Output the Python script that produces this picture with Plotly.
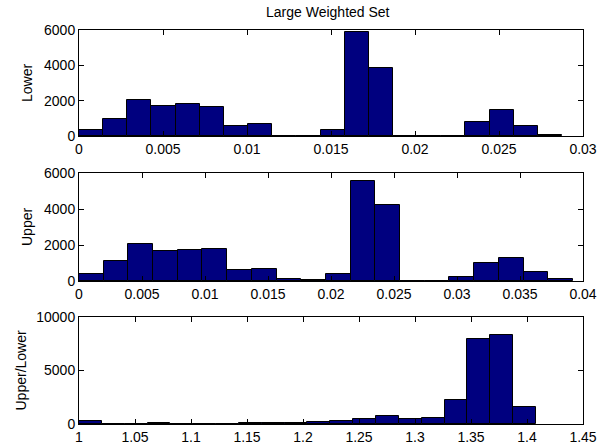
import numpy as np
import plotly.graph_objects as go

title_text = "Large Weighted Set"

# Histogram counts (20 bins each)
lower_counts = [340, 945, 2040, 1700, 1830, 1645, 567, 660, 15, 15,
                360, 5900, 3840, 15, 15, 15, 794, 1475, 586, 76]
lower_bin_min, lower_bin_max = 0.0, 0.02875

upper_counts = [371, 1130, 2040, 1650, 1707, 1780, 612, 686, 93, 30,
                371, 5530, 4230, 15, 15, 222, 1000, 1260, 482, 111]
upper_bin_min, upper_bin_max = 0.0, 0.0392

ratio_counts = [280, 0, 0, 60, 0, 0, 40, 50, 60, 90,
                186, 250, 466, 745, 466, 590, 2236, 7920, 8354, 1553]
ratio_bin_min, ratio_bin_max = 1.0, 1.408

# Axis ticks
lower_xticks = [0, 0.005, 0.01, 0.015, 0.02, 0.025, 0.03]
lower_xlabels = ["0", "0.005", "0.01", "0.015", "0.02", "0.025", "0.03"]
upper_xticks = [0, 0.005, 0.01, 0.015, 0.02, 0.025, 0.03, 0.035, 0.04]
upper_xlabels = ["0", "0.005", "0.01", "0.015", "0.02", "0.025", "0.03", "0.035", "0.04"]
ratio_xticks = [1, 1.05, 1.1, 1.15, 1.2, 1.25, 1.3, 1.35, 1.4, 1.45]
ratio_xlabels = ["1", "1.05", "1.1", "1.15", "1.2", "1.25", "1.3", "1.35", "1.4", "1.45"]
count_yticks_6k = [0, 2000, 4000, 6000]
count_ylabels_6k = ["0", "2000", "4000", "6000"]
count_yticks_10k = [0, 5000, 10000]
count_ylabels_10k = ["0", "5000", "10000"]

panel_names = ["Lower", "Upper", "Upper/Lower"]

BAR_FILL = "#00007F"
FONT = "Liberation Sans, Arial, sans-serif"

W, H = 610, 447
x_dom = [79 / W, 583 / W]
y_doms = [[1 - 136 / H, 1 - 30 / H], [1 - 281 / H, 1 - 173 / H], [1 - 424 / H, 1 - 317 / H]]
ytitle_x = [27 / W, 27 / W, 20 / W]

panels = [
    (lower_counts, lower_bin_min, lower_bin_max, [0, 0.03], lower_xticks, lower_xlabels,
     [0, 6000], count_yticks_6k, count_ylabels_6k),
    (upper_counts, upper_bin_min, upper_bin_max, [0, 0.04], upper_xticks, upper_xlabels,
     [0, 6000], count_yticks_6k, count_ylabels_6k),
    (ratio_counts, ratio_bin_min, ratio_bin_max, [1, 1.45], ratio_xticks, ratio_xlabels,
     [0, 10000], count_yticks_10k, count_ylabels_10k),
]

fig = go.Figure()
layout = dict(
    width=W, height=H,
    margin=dict(l=0, r=0, t=0, b=0, autoexpand=False),
    paper_bgcolor="white", plot_bgcolor="white",
    showlegend=False, bargap=0,
    font=dict(family=FONT, size=14, color="black"),
)
annotations = [dict(text=title_text, x=328 / W, y=1 - 12.5 / H, xref="paper", yref="paper",
                    showarrow=False, xanchor="center", yanchor="middle",
                    font=dict(family=FONT, size=14, color="black"))]

for i, (counts, bmin, bmax, xr, xt, xl, yr, yt, yl) in enumerate(panels):
    n = len(counts)
    edges = np.linspace(bmin, bmax, n + 1)
    centers = (edges[:-1] + edges[1:]) / 2
    widths = np.diff(edges)
    ax = "" if i == 0 else str(i + 1)
    fig.add_trace(go.Bar(
        x=centers, y=counts, width=widths,
        marker=dict(color=BAR_FILL, line=dict(color="black", width=1)),
        xaxis="x" + ax, yaxis="y" + ax,
    ))
    axis_common = dict(showline=True, linecolor="black", linewidth=1, mirror="ticks",
                       ticks="inside", ticklen=5, tickcolor="black", showgrid=False,
                       zeroline=False, automargin=False,
                       tickfont=dict(family=FONT, size=14, color="black"))
    layout["xaxis" + ax] = dict(domain=x_dom, range=xr, tickvals=xt, ticktext=xl,
                                anchor="y" + ax, **axis_common)
    layout["yaxis" + ax] = dict(domain=y_doms[i], range=yr, tickvals=yt, ticktext=yl,
                                anchor="x" + ax, **axis_common)
    annotations.append(dict(text=panel_names[i], x=ytitle_x[i],
                            y=(y_doms[i][0] + y_doms[i][1]) / 2, xref="paper", yref="paper",
                            showarrow=False, textangle=-90, xanchor="center", yanchor="middle",
                            font=dict(family=FONT, size=14, color="black")))

layout["annotations"] = annotations
fig.update_layout(**layout)
fig.write_html("out.html", config={"displayModeBar": False},
               post_script="document.body.style.margin='0';document.body.style.padding='0';")
